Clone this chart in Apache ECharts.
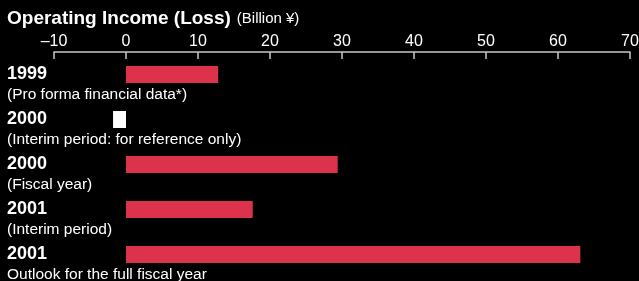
<!DOCTYPE html>
<html>
<head>
<meta charset="utf-8">
<script src="https://cdn.jsdelivr.net/npm/echarts@6/dist/echarts.min.js"></script>
<style>
  html, body { margin: 0; padding: 0; background: #000; }
  #main { width: 639px; height: 281px; }
</style>
</head>
<body>
<div id="main"></div>
<script>
// data
var years = ['1999', '2000', '2000', '2001', '2001'];
var notes = [
    '(Pro forma financial data*)',
    '(Interim period: for reference only)',
    '(Fiscal year)',
    '(Interim period)',
    'Outlook for the full fiscal year'
];
var income = [12.8, -1.8, 29.4, 17.6, 63.1];
var xTicks = [-10, 0, 10, 20, 30, 40, 50, 60, 70];

var font = '"Liberation Sans", Arial, Helvetica, sans-serif';
var chart = echarts.init(document.getElementById('main'));

var option = {
    backgroundColor: '#000',
    animation: false,
    title: {
        left: 2,
        top: 4,
        text: '{a|Operating Income (Loss)} {b|(Billion ¥)}',
        textStyle: {
            fontWeight: 'normal',
            rich: {
                a: { color: '#fff', fontFamily: font, fontWeight: 'bold', fontSize: 19 },
                b: { color: '#fff', fontFamily: font, fontWeight: 'normal', fontSize: 15, padding: [0, 0, 0, 1] }
            }
        }
    },
    grid: { left: 54, right: 9, top: 52, bottom: 4, outerBoundsMode: 'none' },
    xAxis: {
        type: 'value',
        position: 'top',
        min: xTicks[0],
        max: xTicks[xTicks.length - 1],
        interval: 10,
        axisLine: { show: true, lineStyle: { color: '#c8c8c8', width: 1.5 } },
        axisTick: { show: true, inside: true, length: 7, lineStyle: { color: '#c8c8c8', width: 1.5 } },
        splitLine: { show: false },
        axisLabel: {
            color: '#fff',
            fontFamily: font,
            fontSize: 16,
            margin: 2,
            formatter: function (v) { return v < 0 ? '\u2013' + Math.abs(v) : String(v); }
        }
    },
    yAxis: [{
        type: 'category',
        data: years,
        inverse: true,
        axisLine: { show: false, onZero: false },
        axisTick: { show: false },
        axisLabel: {
            align: 'left',
            margin: 47,
            color: '#fff',
            fontFamily: font,
            fontWeight: 'bold',
            fontSize: 18
        }
    }, {
        type: 'category',
        data: notes,
        inverse: true,
        position: 'left',
        offset: 0,
        axisLine: { show: false, onZero: false },
        axisTick: { show: false },
        axisLabel: {
            align: 'left',
            verticalAlign: 'top',
            lineHeight: 41,
            margin: 47,
            color: '#fff',
            fontFamily: font,
            fontSize: 15.5
        }
    }],
    series: [{
        type: 'bar',
        data: income,
        barWidth: 17,
        itemStyle: {
            color: function (p) { return p.value < 0 ? '#ffffff' : '#dc324b'; }
        }
    }]
};

chart.setOption(option);
</script>
</body>
</html>
